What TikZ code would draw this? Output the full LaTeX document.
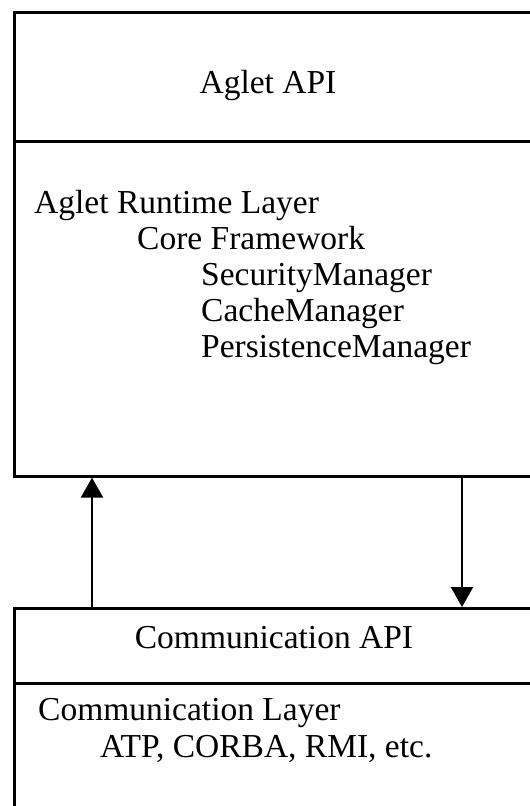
\documentclass[tikz,border=0pt]{standalone}
\usepackage{fontspec}
\setmainfont{Liberation Serif}
\usetikzlibrary{arrows.meta}

\tikzset{
    layer/.style={draw, line width=2.6pt, rectangle, anchor=north west,
        inner sep=0pt, minimum width=540pt},
    txt/.style={anchor=base west, inner sep=0pt, font=\fontsize{33.5}{37}\selectfont},
    flow/.style={line width=2.2pt, -{Triangle[width=22pt,length=20pt]}}
}

\begin{document}
\begin{tikzpicture}[x=1pt,y=-1pt]
    \useasboundingbox (0,0) rectangle (530,806);
    \clip (0,0) rectangle (530,806);

    % Draw layers
    \node[layer, minimum height=129pt] (agletapi) at (13,11) {};
    \node[layer, minimum height=335pt] (runtime) at (13,140) {};
    \node[layer, minimum height=75pt] (commapi) at (13,607) {};
    \node[layer, minimum height=170pt] (commlayer) at (13,682) {};

    % Layer titles
    \node[txt, anchor=base] (agletapititle) at (268,93) {Aglet API};
    \node[txt, anchor=base] (commapititle) at (274,648) {Communication API};

    % Runtime contents
    \foreach \n/\x/\y/\t in {rtlayer/34/213/Aglet Runtime Layer,
        core/137/249/Core Framework,
        secmgr/201/285/SecurityManager,
        cachemgr/201/321/CacheManager,
        persmgr/201/357/PersistenceManager} {
        \node[txt] (\n) at (\x,\y) {\t};
    }

    % Communication contents
    \node[txt] (commlayertitle) at (38,720) {Communication Layer};
    \node[txt] (protocols) at (100,757) {ATP, CORBA, RMI, etc.};

    % Arrows between layers
    \draw[flow] (commapi.north -| 92,0) -- (runtime.south -| 92,0);
    \draw[flow] (runtime.south -| 462,0) -- (commapi.north -| 462,0);
\end{tikzpicture}
\end{document}
